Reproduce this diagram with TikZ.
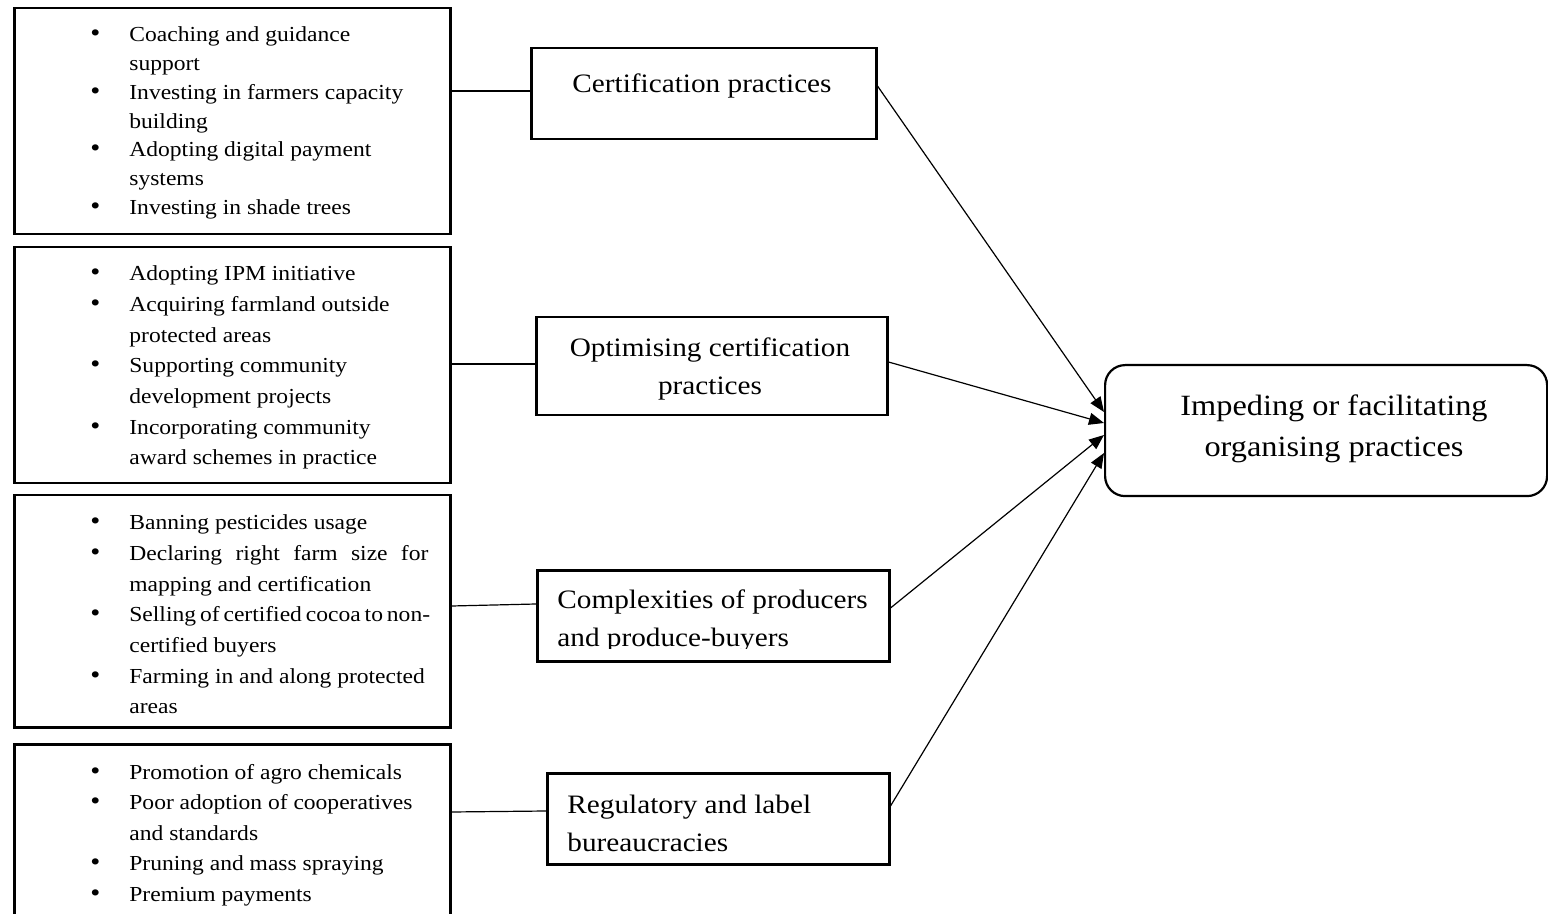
\documentclass[tikz,border=0pt]{standalone}
\usepackage{fontspec}
\setmainfont[FakeStretch=1.1]{Liberation Serif}
\usetikzlibrary{arrows.meta}
\newcommand{\itembul}{\makebox[34pt][c]{\fontsize{13}{13}\selectfont\textbullet}}
\begin{document}
\begin{tikzpicture}[x=0.5pt,y=-0.5pt,
  listbox/.style={draw, line width=1.25pt, inner sep=0pt, anchor=north west, minimum width=218pt},
  midbox/.style={draw, line width=1.25pt, inner sep=0pt, anchor=north west, minimum height=45.5pt},
  goalbox/.style={draw, line width=1.1pt, rounded corners=10pt, inner sep=0pt, anchor=north west,
    minimum width=221pt, minimum height=65.5pt},
  listtext/.style={anchor=base west, inner sep=0pt},
  midtext/.style={inner sep=0pt, font=\fontsize{13.3}{19}\selectfont},
  link/.style={line width=0.6pt},
  flow/.style={line width=0.6pt, -{Triangle[length=7.5pt,width=6pt]}}]
\clip (0,0) rectangle (1548,914);
\fill[white] (0,0) rectangle (1548,914);

% left boxes with bullet lists
\node[listbox, minimum height=113pt] (b1) at (13,7) {};
\node[listbox, minimum height=118pt] (b2) at (13,246) {};
\node[listbox, minimum height=116pt] (b3) at (13,494) {};
\node[listbox, minimum height=120pt] (b4) at (13,743) {};

\node[listtext] (l1) at (61,42) {\fontsize{10.7}{14.35}\selectfont
  \begin{tabular}[t]{@{}l@{}l@{}}
  \itembul & Coaching and guidance\\
           & support\\
  \itembul & Investing in farmers capacity\\
           & building\\
  \itembul & Adopting digital payment\\
           & systems\\
  \itembul & Investing in shade trees
  \end{tabular}};
\node[listtext] (l2) at (61,281) {\fontsize{10.7}{15.33}\selectfont
  \begin{tabular}[t]{@{}l@{}l@{}}
  \itembul & Adopting IPM initiative\\
  \itembul & Acquiring farmland outside\\
           & protected areas\\
  \itembul & Supporting community\\
           & development projects\\
  \itembul & Incorporating community\\
           & award schemes in practice
  \end{tabular}};
\node[listtext] (l3) at (61,530) {\fontsize{10.7}{15.33}\selectfont
  \begin{tabular}[t]{@{}l@{}l@{}}
  \itembul & Banning pesticides usage\\
  \itembul & \makebox[149.5pt][s]{Declaring right farm size for}\\
           & mapping and certification\\
  \itembul & \makebox[149.5pt][s]{Selling of certified cocoa to non-}\\
           & certified buyers\\
  \itembul & Farming in and along protected\\
           & areas
  \end{tabular}};
\node[listtext] (l4) at (61,779) {\fontsize{10.7}{15.25}\selectfont
  \begin{tabular}[t]{@{}l@{}l@{}}
  \itembul & Promotion of agro chemicals\\
  \itembul & Poor adoption of cooperatives\\
           & and standards\\
  \itembul & Pruning and mass spraying\\
  \itembul & Premium payments
  \end{tabular}};

% middle boxes
\node[midbox, minimum width=172.5pt] (m1) at (530,47) {};
\node[midbox, minimum width=175.5pt, minimum height=49pt] (m2) at (535,316) {};
\node[midbox, minimum width=176pt] (m3) at (536,569) {};
\node[midbox, minimum width=171pt] (m4) at (546,772) {};

\node[midtext, anchor=base] (c1) at (702,93) {Certification practices};
\node[midtext, anchor=base] (c2) at (710,357)
  {\begin{tabular}[t]{@{}c@{}}Optimising certification\\ practices\end{tabular}};
\begin{scope}
  % second line is cut short above the bottom border
  \clip (m3.north west) rectangle (m3.east |- 0,648);
  \node[midtext, anchor=base west] (c3) at (557,609)
    {\begin{tabular}[t]{@{}l@{}}Complexities of producers\\ and produce-buyers\end{tabular}};
\end{scope}
\node[midtext, anchor=base west] (c4) at (567,813)
  {\begin{tabular}[t]{@{}l@{}}Regulatory and label\\ bureaucracies\end{tabular}};

% outcome box
\node[goalbox] (g) at (1104,364) {};
\node[inner sep=0pt, anchor=base, font=\fontsize{14.7}{20.5}\selectfont] (gt) at (1334,416)
  {\begin{tabular}[t]{@{}c@{}}Impeding or facilitating\\ organising practices\end{tabular}};

% links from lists to themes
\draw[link] (b1.east |- 0,91) -- (m1.west |- 0,91);
\draw[link] (b2.east |- 0,364) -- (m2.west |- 0,364);
\draw[link] (b3.east |- 0,606) -- (m3.west |- 0,604);
\draw[link] (b4.east |- 0,812) -- (m4.west |- 0,811);

% arrows from themes to outcome
\draw[flow] (m1.east |- 0,86) -- (g.west |- 0,412);
\draw[flow] (m2.east |- 0,362) -- (g.west |- 0,423);
\draw[flow] (m3.east |- 0,608) -- (g.west |- 0,435);
\draw[flow] (m4.east |- 0,806) -- (g.west |- 0,453);
\end{tikzpicture}
\end{document}
